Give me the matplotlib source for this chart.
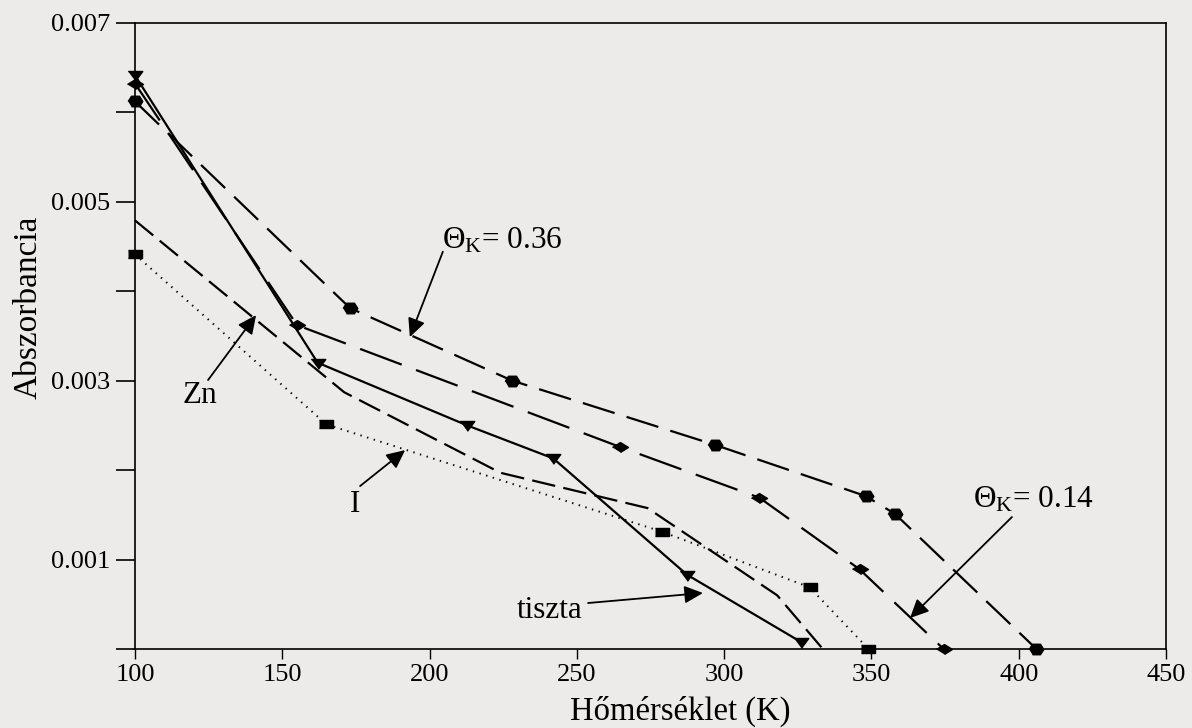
import numpy as np
import matplotlib
matplotlib.use('Agg')
import matplotlib.pyplot as plt

plt.rcParams['font.family'] = 'Liberation Serif'
plt.rcParams['mathtext.fontset'] = 'custom'
plt.rcParams['mathtext.rm'] = 'Liberation Serif'
plt.rcParams['mathtext.it'] = 'Liberation Serif:italic'
plt.rcParams['lines.scale_dashes'] = False

# Theta_K = 0.36 (korongok)
t_036 = [100, 173, 228, 297, 348, 358, 406]
a_036 = [0.00612, 0.00381, 0.00300, 0.00228, 0.00171, 0.00151, 0.0]

# Theta_K = 0.14 (rombuszok)
t_014 = [100, 155, 264.5, 312, 346, 374.5]
a_014 = [0.00632, 0.00362, 0.00226, 0.00169, 0.00089, 0.0]

# tiszta felulet (haromszogek)
t_tiszta = [100, 162, 212.7, 242, 287.4, 326]
a_tiszta = [0.00641, 0.00320, 0.00250, 0.00213, 0.00083, 0.00008]

# Zn (jelolo nelkul)
t_zn = [100, 171, 224, 274, 318, 333.5]
a_zn = [0.00479, 0.00287, 0.00197, 0.001575, 0.00060, 0.0]

# I (negyzetek)
t_i = [100, 165, 279, 329, 349]
a_i = [0.00441, 0.00251, 0.00131, 0.00069, 0.0]

x_ticks = [100, 150, 200, 250, 300, 350, 400, 450]
y_ticks = [0, 0.001, 0.002, 0.003, 0.004, 0.005, 0.006, 0.007]
y_labels = ['', '0.001', '', '0.003', '', '0.005', '', '0.007']

# lapitott jelolok
m_hex = np.array([(-1, 0), (-0.55, 0.72), (0.55, 0.72), (1, 0), (0.55, -0.72), (-0.55, -0.72)])
m_diamond = np.array([(-1, 0), (0, 0.62), (1, 0), (0, -0.62)])
m_square = np.array([(-1, -0.6), (1, -0.6), (1, 0.6), (-1, 0.6)])
m_tri = np.array([(-1, 0.55), (1, 0.55), (0, -0.8)])

bg = '#ecebe9'
fig = plt.figure(figsize=(11.92, 7.28), dpi=100, facecolor=bg)
ax = fig.add_axes([0.11326, 0.10852, 0.86493, 0.86030])
ax.set_facecolor(bg)

lw = 1.6
ax.plot(t_036, a_036, color='black', lw=lw, dashes=(24, 9),
        marker=m_hex, markersize=10.5, clip_on=False)
ax.plot(t_014, a_014, color='black', lw=lw, dashes=(32, 11),
        marker=m_diamond, markersize=11.5, clip_on=False)
ax.plot(t_tiszta, a_tiszta, color='black', lw=lw, linestyle='-',
        marker=m_tri, markersize=10.5, clip_on=False)
ax.plot(t_zn, a_zn, color='black', lw=lw, dashes=(17, 6), clip_on=False)
ax.plot(t_i, a_i, color='black', lw=1.4, dashes=(1, 4),
        marker=m_square, markersize=10.5, clip_on=False)

ax.set_xlim(100, 450)
ax.set_ylim(0, 0.007)
ax.set_xticks(x_ticks)
ax.set_xticklabels([str(v) for v in x_ticks])
ax.set_yticks(y_ticks)
ax.set_yticklabels(y_labels)
ax.tick_params(axis='y', direction='out', length=14, width=1.2, labelsize=19, pad=4)
ax.tick_params(axis='x', direction='out', length=7, width=1.0, labelsize=19, pad=4)
for s in ax.spines.values():
    s.set_linewidth(1.2)

ax.set_xlabel('Hőmérséklet (K)', fontsize=23.5)
ax.set_ylabel('Abszorbancia', fontsize=24)
ax.xaxis.set_label_coords(0.529, -0.074)
ax.yaxis.set_label_coords(-0.089, 0.546)

arrow = dict(arrowstyle='-|>,head_length=0.8,head_width=0.38', mutation_scale=14,
             color='black', lw=1.3, shrinkA=0, shrinkB=0)
fs = 22.5

ax.text(204.2, 0.00448, r'$\Theta_{\mathrm{K}}$= 0.36', fontsize=fs, va='baseline')
ax.annotate('', xy=(193.3, 0.003486), xytext=(204.5, 0.00444), arrowprops=arrow)

ax.text(384.5, 0.001587, r'$\Theta_{\mathrm{K}}$= 0.14', fontsize=fs, va='baseline')
ax.annotate('', xy=(363.1, 0.000346), xytext=(397.7, 0.001475), arrowprops=arrow)

ax.text(116.3, 0.002749, 'Zn', fontsize=fs, va='baseline')
ax.annotate('', xy=(141.1, 0.003732), xytext=(124.8, 0.003006), arrowprops=arrow)

ax.text(173.0, 0.001531, 'I', fontsize=fs, va='baseline')
ax.annotate('', xy=(191.7, 0.002223), xytext=(176.4, 0.001821), arrowprops=arrow)

ax.text(229.7, 0.000346, 'tiszta', fontsize=fs, va='baseline')
ax.annotate('', xy=(292.8, 0.000626), xytext=(253.8, 0.000514), arrowprops=arrow)

fig.savefig('out.png', dpi=100, facecolor=bg)
